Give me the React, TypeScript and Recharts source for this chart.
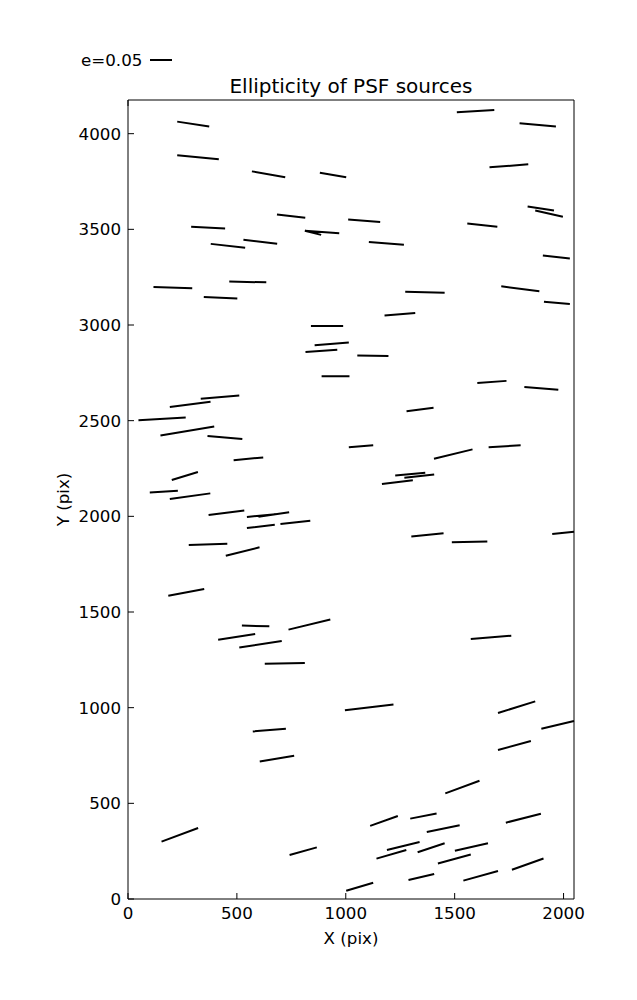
import { LineChart, Line, XAxis, YAxis, Label } from "recharts";

const FONT = "'DejaVu Sans', sans-serif";

// whisker end points, in detector pixels
const xStart = [
	226, 1510, 1798, 226, 569, 881, 1660, 1835, 1870, 684, 290, 1011, 1558, 380, 530, 812, 812, 1106,
	1905, 465, 117, 348, 1273, 1714, 1910, 1178, 840, 857, 815, 1053, 889, 334, 192, 48, 149, 365, 485,
	201, 100, 192, 1279, 1604, 1820, 1014, 1405, 1656, 1227, 1269, 1166, 370, 546, 599, 546, 700, 1301,
	1487, 1948, 279, 449, 185, 523, 414, 511, 628, 737, 1574, 996, 573, 605, 154, 1112, 1296, 1372, 1189,
	1141, 1330, 742, 1288, 1002, 1699, 1898, 1699, 1457, 1735, 1501, 1423, 1540, 1763,
];
const yStart = [
	4063, 4112, 4054, 3887, 3803, 3796, 3824, 3619, 3598, 3577, 3514, 3551, 3530, 3424, 3446, 3493, 3493,
	3434, 3363, 3227, 3199, 3147, 3174, 3202, 3121, 3050, 2995, 2894, 2859, 2841, 2732, 2615, 2572, 2502,
	2423, 2420, 2293, 2190, 2125, 2091, 2549, 2697, 2676, 2361, 2301, 2361, 2213, 2202, 2169, 2007, 1997,
	1998, 1939, 1960, 1895, 1864, 1908, 1850, 1794, 1585, 1429, 1355, 1314, 1230, 1408, 1359, 986, 876,
	719, 300, 382, 420, 350, 256, 211, 244, 230, 99, 43, 972, 890, 779, 552, 399, 252, 186, 96, 153,
];
const xEnd = [
	373, 1682, 1965, 417, 722, 1002, 1838, 1956, 1997, 814, 446, 1158, 1696, 538, 685, 970, 887, 1267,
	2029, 635, 295, 502, 1454, 1889, 2029, 1319, 988, 1014, 961, 1196, 1017, 511, 379, 265, 396, 525, 621,
	321, 229, 378, 1403, 1738, 1976, 1126, 1582, 1803, 1365, 1406, 1308, 534, 677, 740, 674, 837, 1449,
	1650, 2048, 456, 604, 350, 649, 584, 706, 812, 929, 1760, 1219, 725, 763, 322, 1239, 1417, 1523, 1339,
	1278, 1454, 867, 1406, 1126, 1870, 2048, 1850, 1614, 1896, 1653, 1574, 1699, 1908,
];
const yEnd = [
	4038, 4124, 4038, 3866, 3772, 3772, 3840, 3598, 3566, 3560, 3505, 3539, 3513, 3404, 3425, 3479, 3471,
	3420, 3348, 3223, 3192, 3138, 3168, 3176, 3110, 3063, 2995, 2909, 2871, 2838, 2732, 2631, 2599, 2516,
	2470, 2404, 2308, 2232, 2134, 2120, 2568, 2708, 2662, 2371, 2350, 2371, 2228, 2219, 2188, 2030, 2011,
	2021, 1956, 1977, 1911, 1869, 1920, 1857, 1838, 1620, 1425, 1385, 1349, 1234, 1461, 1376, 1016, 890,
	749, 371, 434, 447, 385, 298, 256, 291, 270, 131, 85, 1033, 930, 826, 618, 446, 291, 233, 146, 212,
];

const xTicks = [0, 500, 1000, 1500, 2000];
const yTicks = [0, 500, 1000, 1500, 2000, 2500, 3000, 3500, 4000];

// two points per whisker, then a gap
const points = xStart.flatMap((x, i) => [
	{ x, y: yStart[i] },
	{ x: xEnd[i], y: yEnd[i] },
	{ x: xEnd[i], y: null },
]);

const tickStyle = { fill: "#000", fontSize: 16.7, fontFamily: FONT };
const lineStyle = { stroke: "#000" };
const noText = () => "";

export default function App() {
	return (
		<div style={{ position: "absolute", left: 0, top: 0, width: 637, height: 1000, background: "#fff" }}>
			<LineChart
				width={637}
				height={1000}
				data={points}
				margin={{ top: 70, right: 33, bottom: 41, left: 68 }}
			>
				<XAxis
					dataKey="x"
					type="number"
					domain={[0, 2048]}
					ticks={xTicks}
					interval={0}
					height={60}
					tickSize={-6}
					tickMargin={14}
					axisLine={lineStyle}
					tickLine={lineStyle}
					tick={tickStyle}
				>
					<Label
						content={({ viewBox }: any) => (
							<text
								x={viewBox.x + viewBox.width / 2}
								y={viewBox.y + 45}
								textAnchor="middle"
								fontSize={16.7}
								fontFamily={FONT}
								fill="#000"
							>
								X (pix)
							</text>
						)}
					/>
				</XAxis>
				<XAxis
					xAxisId="top"
					orientation="top"
					type="number"
					domain={[0, 2048]}
					ticks={xTicks}
					interval={0}
					height={30}
					tickSize={-6}
					tickFormatter={noText}
					axisLine={lineStyle}
					tickLine={lineStyle}
				>
					<Label
						content={({ viewBox }: any) => (
							<text
								x={viewBox.x + viewBox.width / 2}
								y={viewBox.y + viewBox.height - 7}
								textAnchor="middle"
								fontSize={20}
								fontFamily={FONT}
								fill="#000"
							>
								Ellipticity of PSF sources
							</text>
						)}
					/>
				</XAxis>
				<YAxis
					type="number"
					domain={[0, 4176]}
					ticks={yTicks}
					interval={0}
					width={60}
					tickSize={-6}
					tickMargin={13}
					axisLine={lineStyle}
					tickLine={lineStyle}
					tick={tickStyle}
				>
					<Label
						content={({ viewBox }: any) => {
							const cx = viewBox.x + viewBox.width - 59;
							const cy = viewBox.y + viewBox.height / 2;
							return (
								<text
									x={cx}
									y={cy}
									transform={`rotate(-90 ${cx} ${cy})`}
									textAnchor="middle"
									fontSize={16.7}
									fontFamily={FONT}
									fill="#000"
								>
									Y (pix)
								</text>
							);
						}}
					/>
				</YAxis>
				<YAxis
					yAxisId="right"
					orientation="right"
					type="number"
					domain={[0, 4176]}
					ticks={yTicks}
					interval={0}
					width={30}
					tickSize={-6}
					tickFormatter={noText}
					axisLine={lineStyle}
					tickLine={lineStyle}
				/>
				<Line
					dataKey="y"
					stroke="#000"
					strokeWidth={2}
					dot={false}
					activeDot={false}
					connectNulls={false}
					isAnimationActive={false}
				/>
			</LineChart>
			<svg
				width={637}
				height={90}
				style={{ position: "absolute", left: 0, top: 0, pointerEvents: "none" }}
			>
				<text x={81} y={66} fontSize={16.7} fontFamily={FONT} fill="#000">
					e=0.05
				</text>
				<line x1={150} y1={60} x2={172} y2={60} stroke="#000" strokeWidth={2} />
			</svg>
		</div>
	);
}
